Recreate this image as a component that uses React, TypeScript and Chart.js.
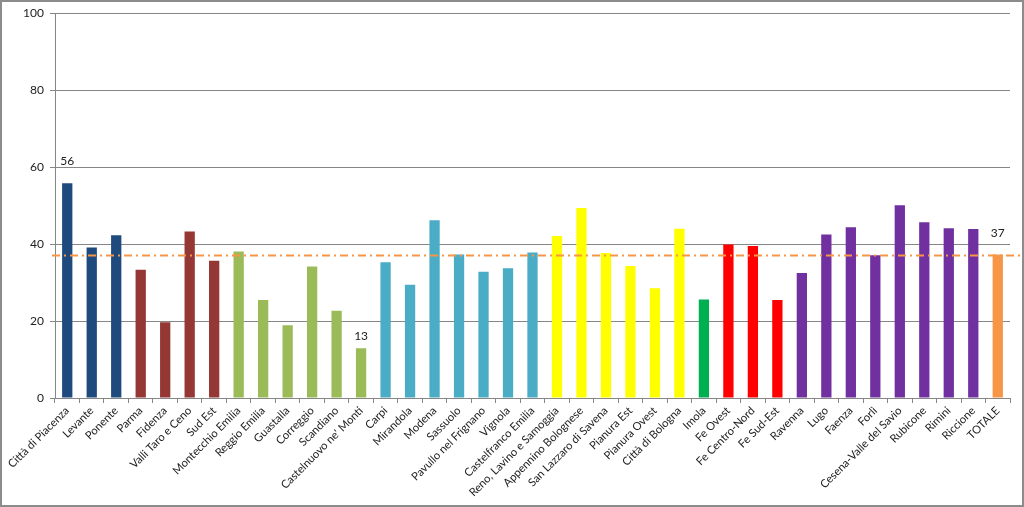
import React, { useEffect, useRef } from "react";
import { Chart, registerables } from "chart.js";

Chart.register(...registerables);

const categories: string[] = [
  "Città di Piacenza", "Levante", "Ponente", "Parma", "Fidenza", "Valli Taro e Ceno", "Sud Est",
  "Montecchio Emilia", "Reggio Emilia", "Guastalla", "Correggio", "Scandiano", "Castelnuovo ne' Monti",
  "Carpi", "Mirandola", "Modena", "Sassuolo", "Pavullo nel Frignano", "Vignola", "Castelfranco Emilia",
  "Reno, Lavino e Samoggia", "Appennino Bolognese", "San Lazzaro di Savena", "Pianura Est", "Pianura Ovest", "Città di Bologna",
  "Imola", "Fe Ovest", "Fe Centro-Nord", "Fe Sud-Est",
  "Ravenna", "Lugo", "Faenza", "Forlì", "Cesena-Valle del Savio", "Rubicone", "Rimini", "Riccione", "TOTALE",
];

const values: number[] = [
  55.8, 39.1, 42.3, 33.3, 19.7, 43.3, 35.7,
  38.1, 25.5, 18.9, 34.2, 22.7, 12.9,
  35.3, 29.4, 46.2, 37.3, 32.8, 33.7, 37.8,
  42.1, 49.4, 37.7, 34.3, 28.5, 44.0,
  25.6, 39.9, 39.5, 25.5,
  32.5, 42.5, 44.4, 37.1, 50.1, 45.7, 44.1, 43.9, 37.3,
];

const barColors: string[] = [
  "#1F4A7E", "#1F4A7E", "#1F4A7E",
  "#953735", "#953735", "#953735", "#953735",
  "#9BBB59", "#9BBB59", "#9BBB59", "#9BBB59", "#9BBB59", "#9BBB59",
  "#4BACC6", "#4BACC6", "#4BACC6", "#4BACC6", "#4BACC6", "#4BACC6", "#4BACC6",
  "#FFFF00", "#FFFF00", "#FFFF00", "#FFFF00", "#FFFF00", "#FFFF00",
  "#00B050",
  "#FF0000", "#FF0000", "#FF0000",
  "#7030A0", "#7030A0", "#7030A0", "#7030A0", "#7030A0", "#7030A0", "#7030A0", "#7030A0",
  "#F79646",
];

const labelledBars: number[] = [0, 12, 38];
const labelTexts: string[] = ["56", "13", "37"];
const labelGaps: number[] = [16, 6, 15];
const referenceValue = 37;
const yTicks: number[] = [0, 20, 40, 60, 80, 100];

const FONT = "Lato, 'Open Sans', sans-serif";

export default function App() {
  const canvasRef = useRef<HTMLCanvasElement | null>(null);

  useEffect(() => {
    document.body.style.margin = "0";
    const canvas = canvasRef.current;
    if (!canvas) return;

    const overlay = {
      id: "overlay",
      afterDatasetsDraw(chart: any) {
        const ctx = chart.ctx;
        const y = chart.scales.y;
        const meta = chart.getDatasetMeta(0);
        ctx.save();
        const ry = y.getPixelForValue(referenceValue);
        ctx.strokeStyle = "#F79646";
        ctx.lineWidth = 2;
        ctx.setLineDash([8, 4, 2, 4]);
        ctx.beginPath();
        ctx.moveTo(chart.chartArea.left - 3, ry);
        ctx.lineTo(1021, ry);
        ctx.stroke();
        ctx.setLineDash([]);
        ctx.fillStyle = "#222";
        ctx.font = "12px " + FONT;
        ctx.textAlign = "center";
        ctx.textBaseline = "bottom";
        labelledBars.forEach((idx, i) => {
          const el = meta.data[idx];
          ctx.fillText(labelTexts[i], el.x, el.y - labelGaps[i]);
        });
        ctx.restore();
      },
      afterDraw(chart: any) {
        const ctx = chart.ctx;
        ctx.save();
        ctx.strokeStyle = "#8C8C8C";
        ctx.lineWidth = 2;
        ctx.strokeRect(1, 1, chart.width - 2, chart.height - 2);
        ctx.restore();
      },
    };

    const chart = new Chart(canvas, {
      type: "bar",
      data: {
        labels: categories,
        datasets: [
          {
            data: values,
            backgroundColor: barColors,
            borderWidth: 0,
            barPercentage: 0.42,
            categoryPercentage: 1,
          },
        ],
      },
      options: {
        animation: false,
        responsive: false,
        maintainAspectRatio: false,
        layout: { padding: { left: 4, top: 13, right: 14, bottom: 2 } },
        plugins: {
          legend: { display: false },
          tooltip: { enabled: false },
        },
        scales: {
          x: {
            grid: {
              display: true,
              drawOnChartArea: false,
              drawTicks: true,
              tickLength: 5,
              offset: true,
              color: "#868686",
            },
            border: { display: true, color: "#868686", width: 1 },
            ticks: {
              autoSkip: false,
              maxRotation: 45,
              minRotation: 45,
              padding: 1,
              color: "#222",
              font: { family: FONT, size: 11.2 },
            },
            afterFit(scale: any) {
              scale.height = 507 - 398 - 2;
            },
          },
          y: {
            min: 0,
            max: 100,
            afterBuildTicks(scale: any) {
              scale.ticks = yTicks.map((v) => ({ value: v }));
            },
            grid: {
              color: "#868686",
              lineWidth: 1,
              drawTicks: true,
              tickLength: 5,
            },
            border: { display: true, color: "#868686", width: 1 },
            ticks: {
              padding: 6,
              color: "#222",
              font: { family: FONT, size: 12 },
            },
            afterFit(scale: any) {
              scale.width = 55 - 4;
            },
          },
        },
      },
      plugins: [overlay],
    });

    return () => chart.destroy();
  }, []);

  return (
    <div style={{ width: 1024, height: 507 }}>
      <canvas ref={canvasRef} width={1024} height={507} style={{ display: "block", width: 1024, height: 507 }} />
    </div>
  );
}
